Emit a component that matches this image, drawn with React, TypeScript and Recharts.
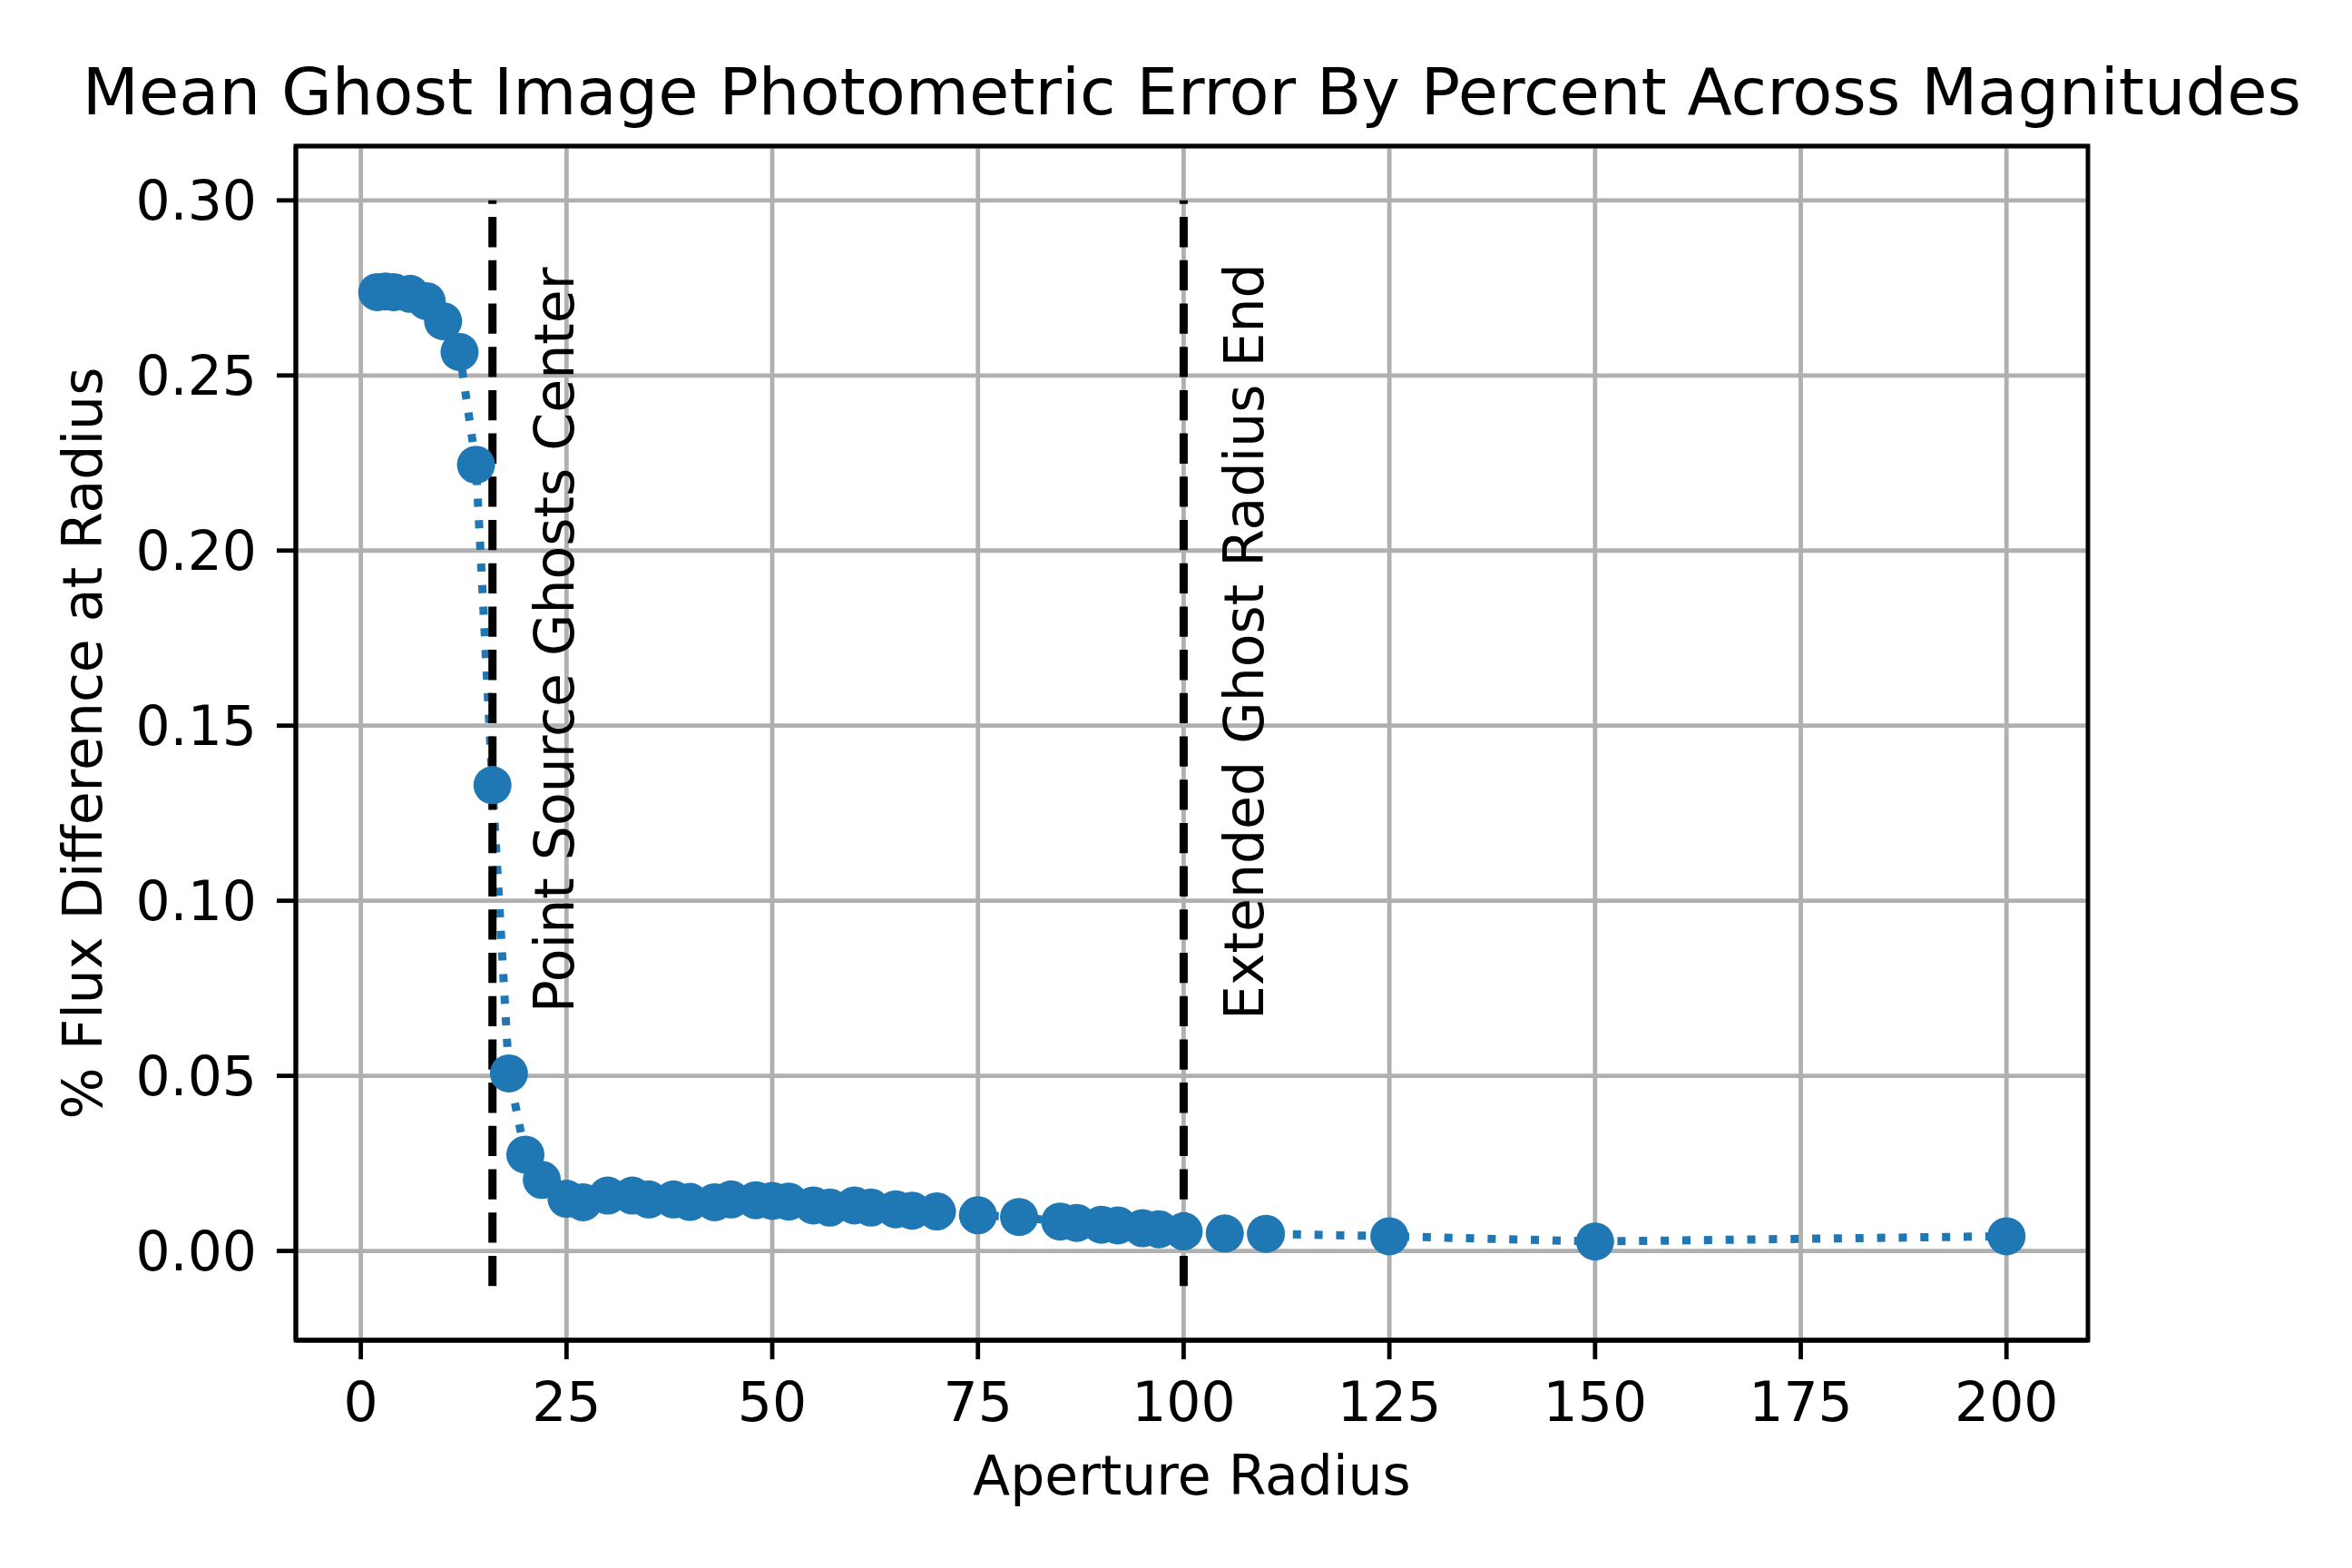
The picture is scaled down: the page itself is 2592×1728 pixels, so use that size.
import React from 'react';
import { ComposedChart, Line, XAxis, YAxis, CartesianGrid, ReferenceLine, ReferenceDot, ReferenceArea } from 'recharts';

// ---- data ----
const radii = [2, 3, 4, 6, 8, 10, 12, 14, 16, 18, 20, 22, 25, 27, 30, 33, 35, 38, 40, 43, 45, 48, 50, 52, 55, 57, 60, 62, 65, 67, 70, 75, 80, 85, 87, 90, 92, 95, 97, 100, 105, 110, 125, 150, 200];
const fluxDiff = [0.2738, 0.2740, 0.2738, 0.2733, 0.2712, 0.2655, 0.2567, 0.2245, 0.1330, 0.0507, 0.0275, 0.0203, 0.0149, 0.0139, 0.0158, 0.0158, 0.0147, 0.0147, 0.0140, 0.0139, 0.0147, 0.0145, 0.0143, 0.0141, 0.0130, 0.0124, 0.0130, 0.0124, 0.0119, 0.0115, 0.0113, 0.0102, 0.0097, 0.0084, 0.0080, 0.0075, 0.0073, 0.0065, 0.0062, 0.0056, 0.0050, 0.0049, 0.0042, 0.0027, 0.0042];
const markerRadii = [16, 100];
const markerBottom = -0.01;
const markerTop = 0.30;
const annotationTexts = ['Point Source Ghosts Center', 'Extended Ghost Radius End'];
const annotationX = [25.9, 109.7];
const annotationY = [0.068, 0.066];
const xTicks = [0, 25, 50, 75, 100, 125, 150, 175, 200];
const yTicks = [0, 0.05, 0.1, 0.15, 0.2, 0.25, 0.3];
const title = 'Mean Ghost Image Photometric Error By Percent Across Magnitudes';
const xLabel = 'Aperture Radius';
const yLabel = '% Flux Difference at Radius';

const data = radii.map((r, i) => ({ r, v: fluxDiff[i] }));

// matplotlib-like 5% margins
const xMin = Math.min(...radii);
const xMax = Math.max(...radii);
const xPad = (xMax - xMin) * 0.05;
const yMin = Math.min(markerBottom, ...fluxDiff);
const yMax = Math.max(markerTop, ...fluxDiff);
const yPad = (yMax - yMin) * 0.05;
const xDomain = [xMin - xPad, xMax + xPad];
const yDomain = [yMin - yPad, yMax + yPad];

// ---- layout ----
const W = 2592;
const H = 1728;
const PLOT_LEFT = 326;
const PLOT_TOP = 161;
const PLOT_RIGHT = 2301;
const PLOT_BOTTOM = 1477;
const Y_AXIS_W = 200;
const X_AXIS_H = 100;
const FONT = "'DejaVu Sans', sans-serif";
const BLUE = '#1f77b4';
const SPINE = 4.8;

const axisLine = { stroke: '#000', strokeWidth: SPINE };
const tickLine = { stroke: '#000', strokeWidth: SPINE };
const tickStyle = { fill: '#000', fontSize: 60, fontFamily: FONT };

const XLabel = (props: any) => {
  const vb = props.viewBox || {};
  const cx = vb.x + vb.width / 2;
  return (
    <g>
      <text x={cx} y={vb.y + 170} textAnchor="middle" fontSize={60} fontFamily={FONT} fill="#000">
        {xLabel}
      </text>
      <text x={cx} y={PLOT_TOP - 35} textAnchor="middle" fontSize={72} fontFamily={FONT} fill="#000">
        {title}
      </text>
    </g>
  );
};

const YLabel = (props: any) => {
  const vb = props.viewBox || {};
  const x = vb.x + vb.width - 214.3;
  const y = vb.y + vb.height / 2;
  return (
    <text x={x} y={y} transform={`rotate(-90 ${x} ${y})`} textAnchor="middle" fontSize={60} fontFamily={FONT} fill="#000">
      {yLabel}
    </text>
  );
};

const makeAnnotation = (text: string) => (props: any) => {
  const { cx, cy } = props;
  return (
    <text x={cx} y={cy} transform={`rotate(-90 ${cx} ${cy})`} textAnchor="start" fontSize={60} fontFamily={FONT} fill="#000">
      {text}
    </text>
  );
};

const renderDot = (p: any) => (
  <circle key={`dot-${p.index}`} cx={p.cx} cy={p.cy} r={21} fill={BLUE} stroke="none" />
);

export default function App() {
  return (
    <div style={{ position: 'absolute', left: 0, top: 0, width: W, height: H, background: '#fff' }}>
      <ComposedChart
        width={W}
        height={H}
        data={data}
        margin={{
          top: PLOT_TOP,
          right: W - PLOT_RIGHT,
          bottom: H - PLOT_BOTTOM - X_AXIS_H,
          left: PLOT_LEFT - Y_AXIS_W,
        }}
      >
        <CartesianGrid stroke="#b0b0b0" strokeWidth={SPINE} />
        <XAxis
          dataKey="r"
          type="number"
          domain={xDomain}
          allowDataOverflow
          ticks={xTicks}
          interval={0}
          height={X_AXIS_H}
          axisLine={axisLine}
          tickLine={tickLine}
          tickSize={21}
          tickMargin={25}
          tick={tickStyle}
          label={<XLabel />}
        />
        <YAxis
          type="number"
          domain={yDomain}
          allowDataOverflow
          ticks={yTicks}
          interval={0}
          width={Y_AXIS_W}
          axisLine={axisLine}
          tickLine={tickLine}
          tickSize={21}
          tickMargin={22}
          tick={tickStyle}
          tickFormatter={(v: number) => v.toFixed(2)}
          label={<YLabel />}
        />
        <Line
          type="linear"
          dataKey="v"
          stroke={BLUE}
          strokeWidth={9}
          strokeDasharray="9 14.85"
          dot={renderDot}
          activeDot={false}
          isAnimationActive={false}
        />
        {markerRadii.map((mx) => (
          <ReferenceLine
            key={`vl-${mx}`}
            segment={[{ x: mx, y: markerBottom }, { x: mx, y: markerTop }]}
            stroke="#000"
            strokeWidth={9}
            strokeDasharray="33.3 14.4"
          />
        ))}
        {annotationTexts.map((t, i) => (
          <ReferenceDot
            key={`ann-${i}`}
            x={annotationX[i]}
            y={annotationY[i]}
            r={1}
            shape={makeAnnotation(t)}
          />
        ))}
        <ReferenceArea
          x1={xDomain[0]}
          x2={xDomain[1]}
          y1={yDomain[0]}
          y2={yDomain[1]}
          ifOverflow="visible"
          fill="none"
          fillOpacity={0}
          stroke="#000"
          strokeWidth={SPINE}
        />
      </ComposedChart>
    </div>
  );
}
